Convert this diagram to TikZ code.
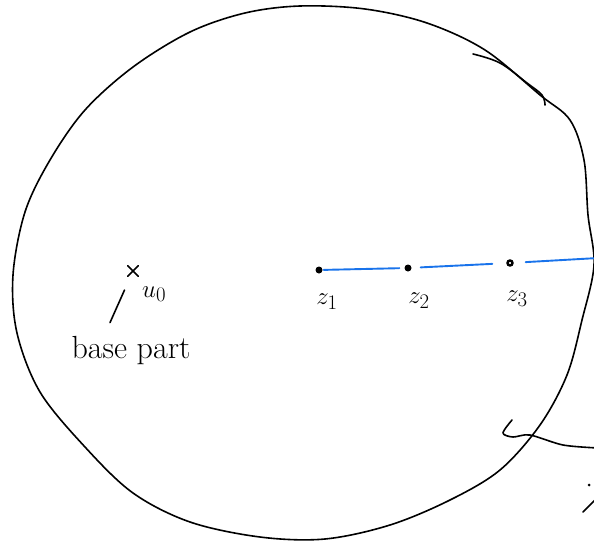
\documentclass[tikz,border=0pt]{standalone}
\usepackage{xcolor}
\usetikzlibrary{arrows.meta,positioning,shapes.misc}
\definecolor{penblue}{RGB}{25,115,235}

\begin{document}
\begin{tikzpicture}[
  x=1pt, y=-1pt,
  pen/.style={line width=1.6pt, line cap=round, line join=round},
  bluepen/.style={line width=1.9pt, line cap=round, draw=penblue},
  dotmark/.style={circle, fill=black, inner sep=0pt, minimum size=7pt},
  hand/.style={font=\fontsize{32}{34}\selectfont, inner sep=1pt}
]
\useasboundingbox (0,0) rectangle (594,543);
% outer boundary
\draw[pen] plot[smooth cycle, tension=0.55] coordinates {
  (300,6) (365,9) (427,23) (485,50) (540,95) (570,120) (584,160)
  (588,215) (594,265) (582,320) (567,375) (540,425) (500,470) (450,500)
  (390,525) (325,539) (260,537) (190,522) (133,493) (85,447) (40,392)
  (17,333) (13,275) (25,212) (50,160) (85,110) (133,67) (190,32) (245,13)};
% extra strokes
\draw[pen] plot[smooth, tension=0.6] coordinates {(473,54) (500,63) (527,83) (542,95) (545,105)};
\draw[pen] plot[smooth, tension=0.5] coordinates {(512,420) (503,433) (513,437) (530,435) (563,445) (598,448)};
\fill (589,485) circle (1.5pt);
\draw[pen] (583,512) -- (598,497);

% base point
\node (u0) [cross out, draw, pen, minimum size=9pt, inner sep=0pt] at (133,271) {};
\node (ulab) [hand, anchor=base west] at (141,297) {$u_0$};
\node (base) [hand, anchor=base] at (131,358) {base part};
\draw[pen, shorten >=15pt] ([xshift=-21pt,yshift=12pt]base.north) -- (u0);

% points on the line
\node (z1) [dotmark] at (319,270) {};
\node (z2) [dotmark] at (408,268) {};
\node (z3) [circle, draw, line width=2.4pt, minimum size=5pt, inner sep=0pt] at (510,263) {};
\coordinate (zend) at (598,258);
\node (z1lab) [hand, below=19pt of z1, xshift=8pt] {$z_1$};
\node (z2lab) [hand, below=20pt of z2, xshift=11pt] {$z_2$};
\node (z3lab) [hand, below=23pt of z3, xshift=7pt] {$z_3$};

\draw[bluepen, shorten <=1pt, shorten >=5pt] (z1) -- (z2);
\draw[bluepen, shorten <=9pt, shorten >=14pt] (z2) -- (z3);
\draw[bluepen, shorten <=12pt] (z3) -- (zend);
\end{tikzpicture}
\end{document}
